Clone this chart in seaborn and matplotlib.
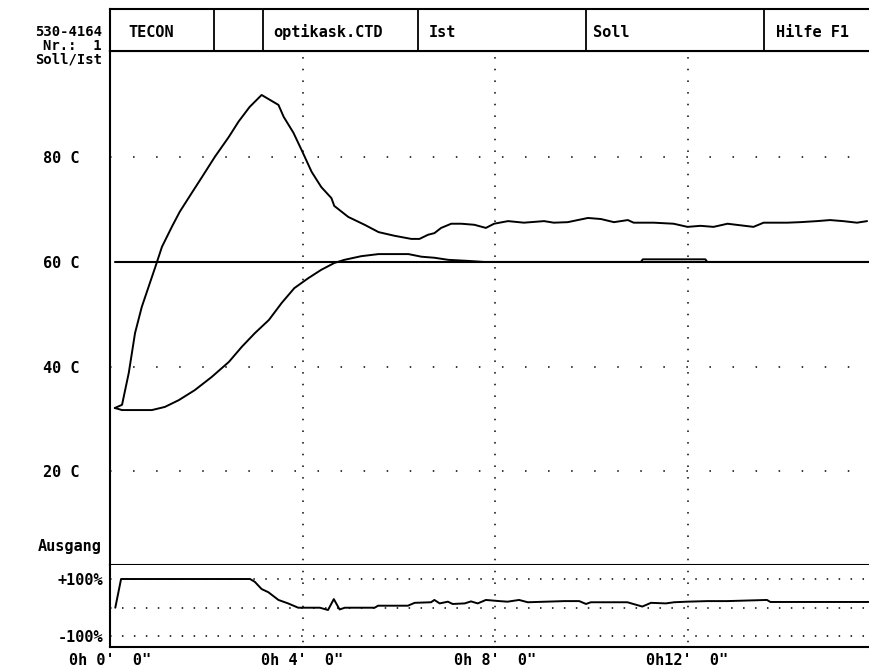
import matplotlib
matplotlib.use("Agg")
import matplotlib.pyplot as plt
import seaborn as sns
import pandas as pd

# ---------------- data (time in minutes) ----------------
heater_time = [0.10, 0.25, 0.39, 0.52, 0.66, 0.80, 0.94, 1.08, 1.29, 1.45, 1.70, 1.91,
               2.18, 2.47, 2.67, 2.90, 3.15, 3.50, 3.61, 3.81, 3.98, 4.19, 4.39, 4.60,
               4.66, 4.95, 5.29, 5.58, 5.91, 6.26, 6.43, 6.61, 6.74, 6.88, 7.09, 7.30,
               7.57, 7.81, 7.98, 8.27, 8.60, 9.02, 9.22, 9.51, 9.93, 10.20, 10.47,
               10.76, 10.88, 11.30, 11.71, 12.00, 12.27, 12.54, 12.83, 13.37, 13.58,
               14.07, 14.34, 14.69, 14.96, 15.23, 15.52, 15.73]
heater_temp = [32.1, 32.7, 38.8, 46.4, 51.4, 55.2, 59.0, 62.9, 66.8, 69.6, 73.2, 76.2,
               80.1, 83.9, 86.8, 89.6, 91.9, 90.0, 87.7, 84.7, 81.4, 77.2, 74.3, 72.2,
               70.7, 68.6, 67.1, 65.7, 65.0, 64.4, 64.4, 65.2, 65.5, 66.5, 67.3, 67.3,
               67.1, 66.5, 67.3, 67.8, 67.5, 67.8, 67.5, 67.6, 68.4, 68.2, 67.6,
               68.0, 67.5, 67.5, 67.3, 66.7, 66.9, 66.7, 67.3, 66.7, 67.5,
               67.5, 67.6, 67.8, 68.0, 67.8, 67.5, 67.8]

ist_time = [0.10, 0.25, 0.87, 1.14, 1.43, 1.76, 2.11, 2.47, 2.74, 3.01, 3.30, 3.57,
            3.83, 4.12, 4.39, 4.66, 4.87, 5.22, 5.58, 6.20, 6.47, 6.74, 7.03, 7.44,
            7.77, 11.03, 11.07, 12.37, 12.41, 15.77]
ist_temp = [32.1, 31.7, 31.7, 32.3, 33.6, 35.5, 38.0, 40.9, 43.8, 46.4, 48.9, 52.2,
            55.0, 56.9, 58.5, 59.8, 60.4, 61.1, 61.5, 61.5, 61.0, 60.8, 60.4, 60.2,
            60.0, 60.0, 60.5, 60.5, 60.0, 60.0]

soll_time = [0.10, 15.77]
soll_temp = [60.0, 60.0]

out_time = [0.11, 0.23, 2.91, 3.01, 3.15, 3.29, 3.50, 3.70, 3.91, 4.36, 4.53, 4.65,
            4.77, 4.88, 5.50, 5.57, 6.19, 6.33, 6.67, 6.74, 6.85, 7.02, 7.12, 7.37,
            7.50, 7.64, 7.81, 8.09, 8.26, 8.50, 8.68, 9.44, 9.75, 9.89, 9.99, 10.75,
            11.06, 11.24, 11.55, 11.72, 11.99, 12.41, 12.82, 13.65, 13.72, 15.76]
out_pct = [0, 100, 100, 90, 65, 54, 27, 15, 0, 0, -8, 30,
           -6, 0, 0, 7, 7, 17, 19, 27, 15, 21, 13, 15,
           22, 15, 27, 23, 21, 27, 19, 23, 23, 13, 19, 19,
           4, 17, 15, 19, 21, 23, 23, 27, 20, 20]

main_ticks = [80, 60, 40, 20]
main_labels = ["80 C", "60 C", "40 C", "20 C"]
out_ticks = [100, -100]
out_labels = ["+100%", "-100%"]
time_ticks = [0, 4, 8, 12]
time_labels = ["0h 0'  0\"", "0h 4'  0\"", "0h 8'  0\"", "0h12'  0\""]
dotted_temps = [80, 40, 20]
dotted_pcts = [100, 0, -100]

header_texts = ["TECON", "optikask.CTD", "Ist", "Soll", "Hilfe F1"]
side_texts = ["530-4164", "Nr.:  1", "Soll/Ist"]

# ---------------- style ----------------
sns.set_style("white")
plt.rcParams["font.family"] = ["DejaVu Sans Mono", "DejaVu Sans"]
plt.rcParams["font.weight"] = "bold"
plt.rcParams["lines.scale_dashes"] = False
plt.rcParams["text.color"] = "black"
plt.rcParams["xtick.color"] = "black"
plt.rcParams["ytick.color"] = "black"
plt.rcParams["xtick.labelcolor"] = "black"
plt.rcParams["ytick.labelcolor"] = "black"
FS = 11
W, H = 869, 668

def fx(px):
    return px / W

def fy(py):
    return 1 - py / H

L = fx(110)
fig = plt.figure(figsize=(W / 100, H / 100), dpi=100)
fig.patch.set_facecolor("white")
ax = fig.add_axes([L, fy(565), 1 - L, fy(51) - fy(565)])
axo = fig.add_axes([L, fy(647), 1 - L, fy(565) - fy(647)], sharex=ax)
axh = fig.add_axes([L, fy(51), 1 - L, fy(9) - fy(51)])

DOT_H_MAIN = (0, (1.1, 15.5))
DOT_V = (5, (1.1, 7.3))
DOT_H_OUT = (0, (1.1, 7.5))

for a in (ax, axo):
    a.set_facecolor("white")
    for t in time_ticks[1:]:
        a.axvline(t, color="black", lw=1.1, ls=DOT_V, dash_capstyle="butt", zorder=1)
for v in dotted_temps:
    ax.axhline(v, color="black", lw=1.1, ls=DOT_H_MAIN, dash_capstyle="butt", zorder=1)
for v in dotted_pcts:
    axo.axhline(v, color="black", lw=1.1, ls=DOT_H_OUT, dash_capstyle="butt", zorder=1)

# ---------------- curves ----------------
df_h = pd.DataFrame({"t": heater_time, "T": heater_temp})
df_i = pd.DataFrame({"t": ist_time, "T": ist_temp})
df_s = pd.DataFrame({"t": soll_time, "T": soll_temp})
df_o = pd.DataFrame({"t": out_time, "p": out_pct})

sns.lineplot(data=df_s, x="t", y="T", ax=ax, color="black", lw=1.5, estimator=None, sort=False)
sns.lineplot(data=df_h, x="t", y="T", ax=ax, color="black", lw=1.4, estimator=None, sort=False)
sns.lineplot(data=df_i, x="t", y="T", ax=ax, color="black", lw=1.4, estimator=None, sort=False)
sns.lineplot(data=df_o, x="t", y="p", ax=axo, color="black", lw=1.4, estimator=None, sort=False)

# ---------------- axes ----------------
ax.set_xlim(0.04, 15.77)
ax.set_ylim(2.1, 100.3)
axo.set_ylim(-136.9, 148.8)

ax.set_yticks(main_ticks)
ax.set_yticklabels(main_labels)
ax.tick_params(axis="y", length=0, pad=22.3, labelsize=FS)
ax.tick_params(axis="x", bottom=False, labelbottom=False)
axo.set_yticks(out_ticks)
axo.set_yticklabels(out_labels)
axo.tick_params(axis="y", length=0, pad=5, labelsize=FS)
axo.set_xticks(time_ticks)
axo.set_xticklabels(time_labels)
axo.tick_params(axis="x", length=0, pad=4.3, labelsize=FS)
for a in (ax, axo):
    a.set_xlabel("")
    a.set_ylabel("")
    for lab in a.get_xticklabels() + a.get_yticklabels():
        lab.set_fontweight("bold")
        lab.set_color("black")

for name, sp in ax.spines.items():
    sp.set_visible(name in ("left", "top", "bottom"))
    sp.set_linewidth(1.5)
    sp.set_color("black")
for name, sp in axo.spines.items():
    sp.set_visible(name in ("left", "bottom"))
    sp.set_linewidth(1.5)
    sp.set_color("black")

# ---------------- header ----------------
axh.set_xlim(110, 869)
axh.set_ylim(0, 1)
axh.set_xticks([])
axh.set_yticks([])
axh.set_facecolor("white")
for name, sp in axh.spines.items():
    sp.set_visible(name in ("left", "top", "bottom"))
    sp.set_linewidth(1.5)
    sp.set_color("black")
for e in [214, 263, 418, 586, 764]:
    axh.axvline(e, color="black", lw=1.3)
for x0, s in zip([128, 273, 429, 593, 776], header_texts):
    axh.text(x0, 0.45, s, ha="left", va="center", fontsize=FS, fontweight="bold",
             color="black")

for py, s in zip([31.5, 45.5, 59.5], side_texts):
    fig.text(fx(102), fy(py), s, ha="right", va="center", fontsize=10,
             fontweight="bold", color="black")
fig.text(fx(102), fy(547), "Ausgang", ha="right", va="center", fontsize=FS,
         fontweight="bold", color="black")

fig.savefig("out.png", dpi=100, facecolor="white")
